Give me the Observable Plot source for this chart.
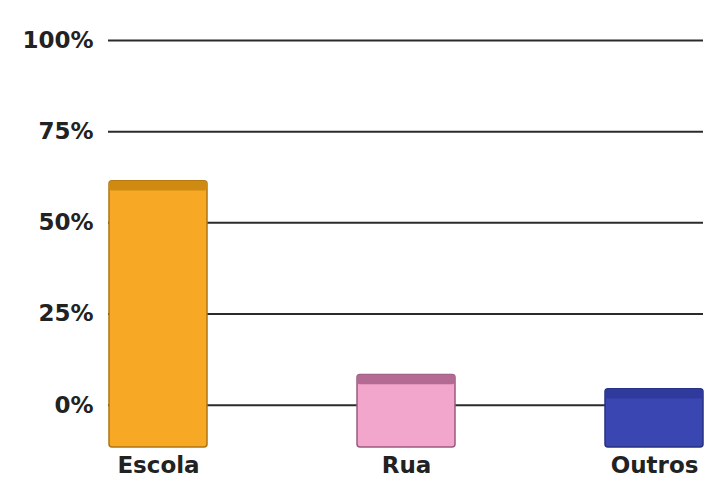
<!DOCTYPE html>
<html>
<head>
<meta charset="utf-8">
<script src="https://cdn.jsdelivr.net/npm/d3@7"></script>
<script src="https://cdn.jsdelivr.net/npm/@observablehq/plot@0.6"></script>
<style>
  html, body { margin: 0; padding: 0; background: #ffffff; }
  #chart svg { display: block; }
</style>
</head>
<body>
<div id="chart"></div>
<script>
const categories = ["Escola", "Rua", "Outros"];
const values = [61.4, 8.3, 4.4];
const yTicks = [0, 25, 50, 75, 100];
const fillColors = ["#F7A824", "#F2A6CC", "#3A47B2"];
const topColors = ["#CF8A12", "#B36A93", "#2F3A9C"];
const edgeColors = ["#B07410", "#9A5A80", "#27307F"];

const base = -11.6; // visual floor of the 3D bars below the 0% line
const data = categories.map((c, i) => ({
  cat: c, value: values[i], fill: fillColors[i], top: topColors[i], edge: edgeColors[i]
}));

const chart = Plot.plot({
  width: 710,
  height: 486,
  marginLeft: 108,
  marginRight: 7,
  marginTop: 40,
  marginBottom: 39,
  style: { fontFamily: "'DejaVu Sans', sans-serif", background: "#ffffff" },
  x: { domain: categories, paddingInner: 0.606, paddingOuter: 0, label: null },
  y: { domain: [base, 100], label: null },
  marks: [
    Plot.ruleY(yTicks, { stroke: "#2b2b2b", strokeWidth: 2 }),
    Plot.rectY(data, {
      x: "cat", y1: base, y2: "value",
      fill: d => d.fill, stroke: d => d.edge, strokeWidth: 1.5, rx: 3
    }),
    Plot.rectY(data, {
      x: "cat", y1: d => d.value - 2.7, y2: "value",
      fill: d => d.top, rx: 3
    }),
    Plot.axisY({
      ticks: yTicks, tickSize: 0, tickPadding: 15,
      tickFormat: d => d + "%",
      fontSize: 23, fontWeight: "bold", fill: "#222"
    }),
    Plot.axisX({
      tickSize: 0, tickPadding: 9,
      fontSize: 23, fontWeight: "bold", fill: "#222"
    })
  ]
});
document.getElementById("chart").appendChild(chart);
</script>
</body>
</html>
